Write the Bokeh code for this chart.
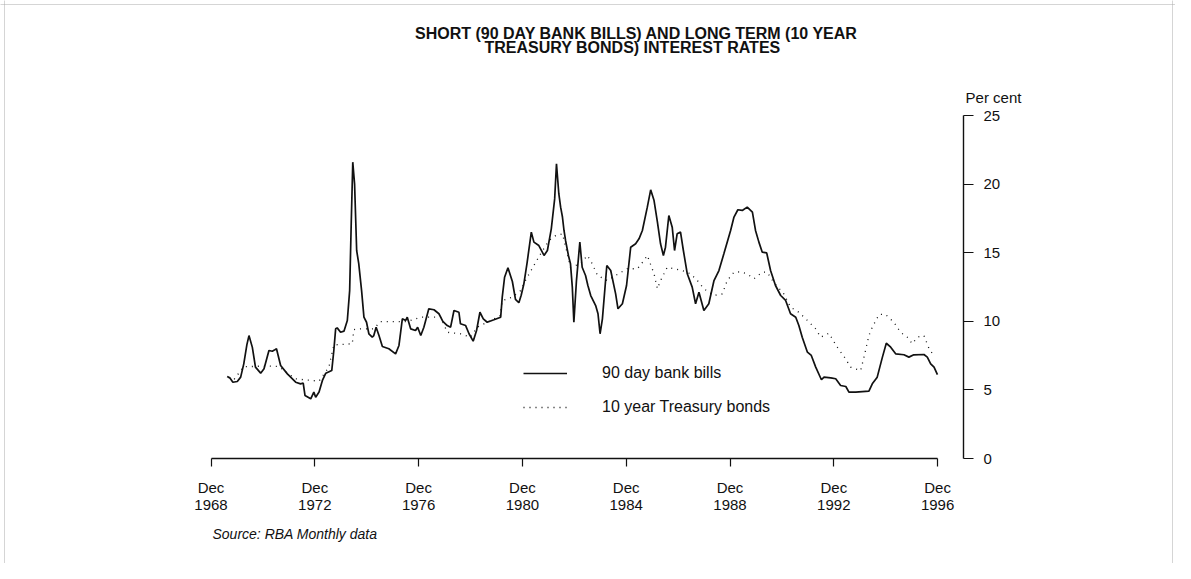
from bokeh.plotting import figure
from bokeh.models import Range1d, FixedTicker, Label, Legend, LegendItem, Span
from bokeh.embed import file_html
from bokeh.resources import INLINE

# ---- data (decimal years, per cent) ----
bills_t = [1969.54, 1969.64, 1969.76, 1969.93, 1970.06, 1970.18, 1970.30, 1970.38, 1970.51, 1970.63,
           1970.83, 1970.96, 1971.15, 1971.28, 1971.36, 1971.44, 1971.60, 1971.86, 1972.18, 1972.37,
           1972.47, 1972.54, 1972.76, 1972.88, 1972.95, 1973.08, 1973.21, 1973.34, 1973.57, 1973.65,
           1973.72, 1973.78, 1973.91, 1974.04, 1974.17, 1974.26, 1974.32, 1974.38, 1974.45, 1974.53,
           1974.61, 1974.72, 1974.81, 1974.91, 1975.00, 1975.13, 1975.19, 1975.28, 1975.39, 1975.52,
           1975.77, 1976.03, 1976.16, 1976.29, 1976.42, 1976.48, 1976.61, 1976.80, 1976.88, 1977.00,
           1977.12, 1977.31, 1977.51, 1977.70, 1977.85, 1978.02, 1978.15, 1978.28, 1978.47, 1978.53,
           1978.73, 1978.86, 1979.02, 1979.15, 1979.28, 1979.41, 1979.56, 1979.82, 1980.08, 1980.14,
           1980.23, 1980.36, 1980.53, 1980.65, 1980.78, 1980.87, 1980.97, 1981.10, 1981.26, 1981.36,
           1981.55, 1981.75, 1981.88, 1982.03, 1982.16, 1982.23, 1982.32, 1982.39, 1982.46, 1982.52,
           1982.58, 1982.69, 1982.77, 1982.84, 1982.90, 1983.00, 1983.13, 1983.22, 1983.35, 1983.44,
           1983.55, 1983.74, 1983.83, 1983.91, 1984.00, 1984.17, 1984.32, 1984.51, 1984.60, 1984.77,
           1984.93, 1985.09, 1985.28, 1985.41, 1985.54, 1985.73, 1985.86, 1985.99, 1986.12, 1986.24,
           1986.35, 1986.43, 1986.56, 1986.69, 1986.78, 1986.88, 1987.01, 1987.12, 1987.27, 1987.46,
           1987.59, 1987.72, 1987.91, 1988.10, 1988.30, 1988.49, 1988.68, 1988.94, 1989.07, 1989.22,
           1989.39, 1989.58, 1989.78, 1989.90, 1990.03, 1990.16, 1990.33, 1990.48, 1990.67, 1990.87,
           1991.06, 1991.25, 1991.45, 1991.57, 1991.70, 1991.90, 1992.05, 1992.22, 1992.44, 1992.54,
           1992.80, 1992.99, 1993.18, 1993.38, 1993.50, 1993.76, 1994.27, 1994.40, 1994.59, 1994.79,
           1994.94, 1995.11, 1995.30, 1995.62, 1995.81, 1996.00, 1996.39, 1996.52, 1996.65, 1996.78,
           1996.91]
bills_v = [5.98, 5.88, 5.56, 5.61, 5.93, 6.90, 8.30, 8.96, 8.10, 6.66,
           6.22, 6.54, 7.87, 7.82, 7.90, 8.00, 6.78, 6.17, 5.56, 5.44,
           5.50, 4.59, 4.35, 4.84, 4.47, 4.84, 5.69, 6.22, 6.41, 7.87,
           9.45, 9.52, 9.20, 9.28, 10.06, 12.24, 17.10, 21.60, 20.00, 15.16,
           14.20, 12.24, 10.30, 9.93, 9.09, 8.84, 8.96, 9.57, 8.96, 8.16,
           8.00, 7.63, 8.24, 10.18, 10.06, 10.30, 9.45, 9.33, 9.57, 8.96,
           9.57, 10.91, 10.84, 10.55, 10.00, 9.69, 9.57, 10.79, 10.66, 9.82,
           9.69, 9.09, 8.55, 9.33, 10.66, 10.18, 9.93, 10.11, 10.30, 11.76,
           13.21, 13.90, 12.90, 11.60, 11.35, 11.90, 12.70, 14.30, 16.50, 15.77,
           15.52, 14.80, 15.16, 16.74, 18.92, 21.48, 19.30, 18.32, 17.60, 16.62,
           15.89, 14.80, 14.19, 12.49, 9.93, 12.97, 15.77, 13.94, 13.34, 12.61,
           11.88, 11.15, 10.55, 9.09, 10.18, 14.07, 13.70, 12.00, 10.91, 11.28,
           12.61, 15.40, 15.65, 16.01, 16.62, 18.32, 19.58, 18.80, 17.22, 15.65,
           14.80, 15.40, 17.71, 16.86, 15.16, 16.38, 16.50, 15.16, 13.46, 12.49,
           11.28, 12.12, 10.79, 11.28, 12.97, 13.70, 14.92, 16.62, 17.60, 18.13,
           18.08, 18.32, 17.95, 16.62, 15.77, 15.04, 14.99, 13.70, 12.61, 11.88,
           11.52, 10.55, 10.30, 9.69, 8.84, 7.75, 7.51, 6.66, 5.74, 5.93,
           5.88, 5.81, 5.32, 5.25, 4.84, 4.84, 4.91, 5.44, 5.93, 7.39,
           8.40, 8.11, 7.63, 7.56, 7.39, 7.56, 7.58, 7.39, 6.90, 6.66,
           6.12]

bonds_t = [1969.60, 1969.80, 1970.18, 1970.44, 1971.08, 1971.53, 1971.86, 1972.18, 1972.50, 1973.08,
           1973.46, 1973.65, 1974.36, 1974.42, 1974.55, 1975.19, 1975.45, 1975.96, 1976.48, 1977.00,
           1977.51, 1977.77, 1978.02, 1978.53, 1978.92, 1979.18, 1979.56, 1980.05, 1980.14, 1980.53,
           1980.85, 1981.04, 1981.36, 1981.62, 1981.94, 1982.20, 1982.46, 1982.65, 1982.77, 1983.16,
           1983.42, 1983.61, 1983.81, 1984.19, 1984.51, 1984.96, 1985.35, 1985.60, 1985.73, 1985.99,
           1986.12, 1986.24, 1986.50, 1986.76, 1987.08, 1987.40, 1987.66, 1987.91, 1988.30, 1988.62,
           1988.81, 1989.07, 1989.33, 1989.58, 1989.84, 1990.16, 1990.35, 1990.60, 1990.99, 1991.25,
           1991.57, 1991.90, 1992.22, 1992.41, 1992.73, 1993.05, 1993.37, 1993.56, 1993.95, 1994.08,
           1994.27, 1994.40, 1994.66, 1994.91, 1995.23, 1995.49, 1995.75, 1995.94, 1996.14, 1996.39,
           1996.59, 1996.72]
bonds_v = [5.90, 5.75, 6.70, 6.70, 6.75, 6.70, 6.22, 5.81, 5.74, 5.64,
           6.66, 8.28, 8.36, 9.38, 9.45, 9.45, 9.98, 9.98, 9.98, 10.30,
           10.30, 10.30, 9.20, 9.09, 8.84, 9.57, 9.93, 10.40, 11.50, 11.76,
           12.24, 13.00, 14.07, 14.92, 15.89, 16.25, 16.38, 14.92, 13.94, 14.19,
           14.80, 14.19, 13.34, 12.97, 13.34, 13.83, 13.83, 14.43, 14.80, 13.46,
           12.37, 12.97, 13.94, 13.83, 13.70, 13.46, 12.97, 12.37, 11.88, 12.00,
           12.97, 13.58, 13.60, 13.45, 13.10, 13.58, 13.58, 12.85, 12.00, 11.03,
           10.66, 10.06, 9.45, 8.84, 9.13, 8.11, 7.27, 6.66, 6.41, 7.39,
           8.96, 9.57, 10.50, 10.50, 9.93, 9.20, 8.84, 8.36, 8.84, 8.96,
           8.00, 7.63]

tick_pos = [1968 + 11 / 12 + 4 * k for k in range(8)]
tick_labels = ["Dec\n1968", "Dec\n1972", "Dec\n1976", "Dec\n1980",
               "Dec\n1984", "Dec\n1988", "Dec\n1992", "Dec\n1996"]
y_ticks = [0, 5, 10, 15, 20, 25]

title_lines = ["SHORT (90 DAY BANK BILLS) AND LONG TERM (10 YEAR",
               "TREASURY BONDS) INTEREST RATES"]
series_names = ["90 day bank bills", "10 year Treasury bonds"]
unit_label = "Per cent"
source_note = "Source: RBA Monthly data"

FONT = "Liberation Sans"
INK = "#111111"

W, H = 1175, 563
# pixel geometry of the chart area
X_LEFT_PX, PX_PER_YEAR = 210.5, 25.95
Y_ZERO_PX, PX_PER_UNIT = 458.0, 13.72
T0 = tick_pos[0]


def tx(px):
    return T0 + (px - X_LEFT_PX) / PX_PER_YEAR


def vy(py):
    return (Y_ZERO_PX - py) / PX_PER_UNIT


p = figure(width=W, height=H, output_backend="svg", toolbar_location=None, title=None,
           x_range=Range1d(tx(0), tx(W)), y_range=Range1d(vy(H), vy(0)),
           y_axis_location="right",
           min_border_left=0, min_border_right=0, min_border_top=0, min_border_bottom=0)
p.outline_line_color = None
p.xgrid.visible = False
p.ygrid.visible = False
p.background_fill_color = "white"
p.border_fill_color = "white"

# faint dotted page border of the scanned original
for loc, dim in ((vy(4), "width"), (tx(4), "height"), (tx(1172), "height")):
    p.add_layout(Span(location=loc, dimension=dim, line_color="#aaaaaa",
                      line_width=1, line_dash="1 1"))

# x axis at zero
xa = p.xaxis[0]
xa.fixed_location = 0
xa.ticker = FixedTicker(ticks=tick_pos)
xa.major_label_overrides = {t: l for t, l in zip(tick_pos, tick_labels)}
xa.bounds = (tick_pos[0], tick_pos[-1])
xa.minor_tick_line_color = None
xa.major_tick_in = 0
xa.major_tick_out = 8
xa.axis_line_width = 1.4
xa.major_tick_line_width = 1.2
xa.axis_line_color = INK
xa.major_tick_line_color = INK
xa.major_label_text_font = FONT
xa.major_label_text_font_size = "15px"
xa.major_label_text_line_height = 1.05
xa.major_label_text_color = INK
xa.major_label_standoff = 12

# y axis, detached to the right
ya = p.yaxis[0]
ya.fixed_location = tx(963)
ya.ticker = FixedTicker(ticks=y_ticks)
ya.bounds = (0, 25)
ya.minor_tick_line_color = None
ya.major_tick_in = 0
ya.major_tick_out = 10
ya.axis_line_width = 1.4
ya.major_tick_line_width = 1.2
ya.axis_line_color = INK
ya.major_tick_line_color = INK
ya.major_label_text_font = FONT
ya.major_label_text_font_size = "15px"
ya.major_label_text_color = INK
ya.major_label_standoff = 10

r1 = p.line(bills_t, bills_v, line_color=INK, line_width=1.7)
r2 = p.line(bonds_t, bonds_v, line_color=INK, line_width=1.3, line_dash="1 5")

legend = Legend(items=[LegendItem(label=series_names[0], renderers=[r1]),
                       LegendItem(label=series_names[1], renderers=[r2])],
                location=(523, H - 417), orientation="vertical",
                glyph_width=44, glyph_height=20, label_height=20, label_width=170,
                label_standoff=35, spacing=14, padding=0, margin=0,
                border_line_color=None, background_fill_alpha=0,
                label_text_font=FONT, label_text_font_size="16px", label_text_color=INK)
p.add_layout(legend)

# titles and notes
p.add_layout(Label(x=tx(636), y=vy(33), text=title_lines[0], text_align="center", text_baseline="middle",
                   text_font=FONT, text_font_style="bold", text_font_size="16px", text_color=INK))
p.add_layout(Label(x=tx(632), y=vy(47), text=title_lines[1], text_align="center", text_baseline="middle",
                   text_font=FONT, text_font_style="bold", text_font_size="16px", text_color=INK))
p.add_layout(Label(x=tx(993), y=vy(97), text=unit_label, text_align="center", text_baseline="middle",
                   text_font=FONT, text_font_size="15px", text_color=INK))
p.add_layout(Label(x=tx(212), y=vy(533), text=source_note, text_align="left",
                   text_baseline="middle", text_font=FONT, text_font_style="italic",
                   text_font_size="14px", text_color=INK))

open("out.html", "w").write(file_html(p, INLINE))
